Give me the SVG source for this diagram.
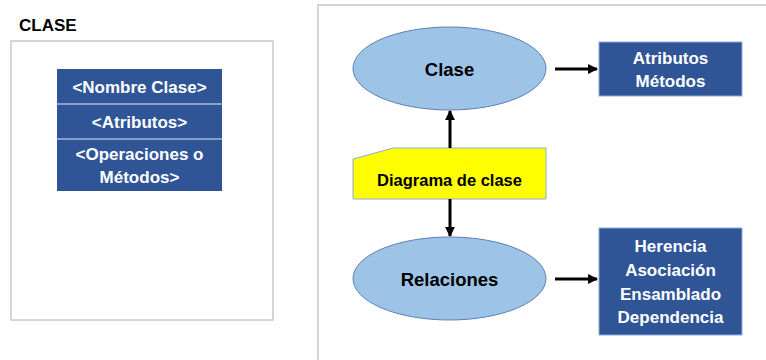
<svg xmlns="http://www.w3.org/2000/svg" width="766" height="360" viewBox="0 0 766 360">
<defs>
<style>
text{font-family:"Liberation Sans",Arial,sans-serif;font-weight:bold;text-anchor:middle;dominant-baseline:central}
.w{fill:#ffffff;font-size:17px}
.k{fill:#000000;font-size:18.5px}
.box{fill:#2F5597;stroke:#8FAADC;stroke-width:1}
.ell{fill:#9DC3E6;stroke:#5B7FB5;stroke-width:1}
.frame{fill:none;stroke:#C8C8C8;stroke-width:1.5}
.conn{stroke:#000;stroke-width:3;fill:none;marker-end:url(#ah)}
</style>
<marker id="ah" viewBox="0 0 10 10" refX="9" refY="5" markerWidth="3.3" markerHeight="3.3" orient="auto" markerUnits="strokeWidth">
<path d="M0,0 L10,5 L0,10 z" fill="#000"/>
</marker>
</defs>
<rect width="766" height="360" fill="#fff"/>
<g id="panel-left">
<text x="19" y="25" class="k" style="text-anchor:start;font-size:17px">CLASE</text>
<rect class="frame" x="11" y="41" width="262" height="279"/>
</g>
<g id="panel-right">
<path class="frame" d="M318,360 L318,5 L766,5"/>
</g>
<g id="uml-class">
<rect x="57" y="69" width="165" height="122" fill="#2F5597"/>
<line x1="57" y1="104" x2="222" y2="104" stroke="#A6B8D6" stroke-width="1.5"/>
<line x1="57" y1="139" x2="222" y2="139" stroke="#A6B8D6" stroke-width="1.5"/>
<text class="w" x="139.5" y="87">&lt;Nombre Clase&gt;</text>
<text class="w" x="139.5" y="122">&lt;Atributos&gt;</text>
<text class="w" x="139.5" y="154">&lt;Operaciones o</text>
<text class="w" x="139.5" y="177">Métodos&gt;</text>
</g>
<g id="clase">
<ellipse class="ell" cx="449.5" cy="68.5" rx="96.5" ry="41.5"/>
<text class="k" x="449.5" y="69">Clase</text>
</g>
<g id="atributos">
<rect class="box" x="599" y="42" width="143" height="54"/>
<text class="w" x="670.5" y="58">Atributos</text>
<text class="w" x="670.5" y="81">Métodos</text>
</g>
<g id="diagrama">
<path d="M353,159 L393,148 L546,148 L546,199 L353,199 Z" fill="#FFFF00" stroke="#8FAADC" stroke-width="1"/>
<text class="k" x="449.5" y="180" style="font-size:16.5px">Diagrama de clase</text>
</g>
<g id="relaciones">
<ellipse class="ell" cx="449.5" cy="278.5" rx="96.5" ry="41.5"/>
<text class="k" x="449.5" y="279">Relaciones</text>
</g>
<g id="relaciones-list">
<rect class="box" x="599" y="228" width="143" height="107"/>
<text class="w" x="670.5" y="246">Herencia</text>
<text class="w" x="670.5" y="270">Asociación</text>
<text class="w" x="670.5" y="294">Ensamblado</text>
<text class="w" x="670.5" y="317">Dependencia</text>
</g>
<g id="connectors">
<line class="conn" x1="450" y1="148" x2="450" y2="111"/>
<line class="conn" x1="450" y1="199" x2="450" y2="236"/>
<line class="conn" x1="555" y1="69" x2="597" y2="69"/>
<line class="conn" x1="555" y1="279" x2="597" y2="279"/>
</g>
</svg>
